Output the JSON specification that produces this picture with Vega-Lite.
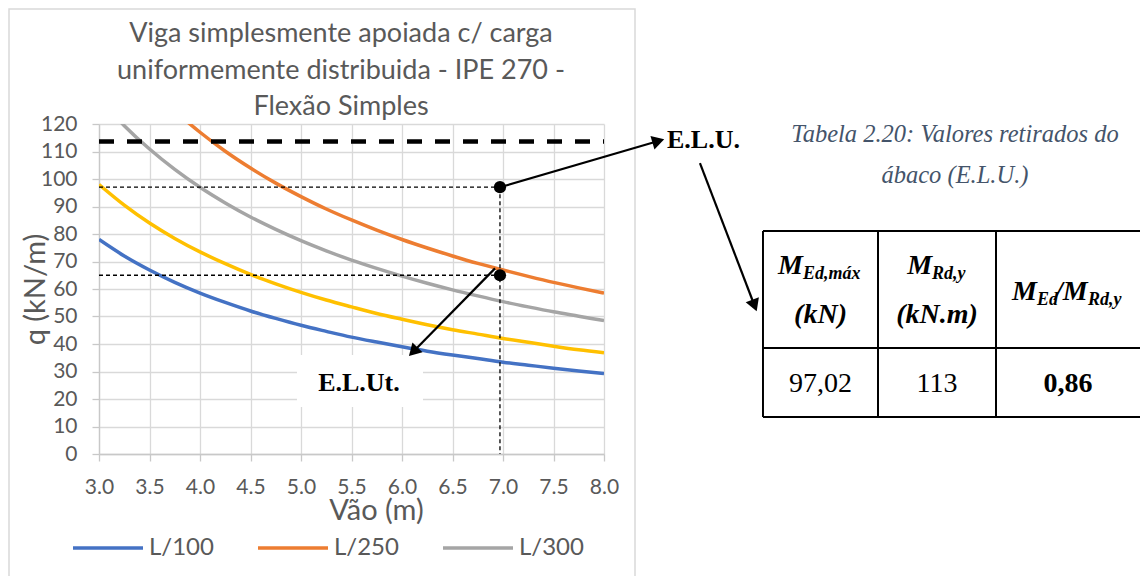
{
  "$schema": "https://vega.github.io/schema/vega-lite/v6.json",
  "width": 505,
  "height": 330,
  "autosize": {"type": "none"},
  "padding": {"left": 99, "top": 124, "right": 536, "bottom": 122},
  "background": "white",
  "config": {"view": {"stroke": null}, "font": "Lato"},
  "datasets": {
    "curves": [
      {"x":3.0,"y":78.0,"s":"L/100"},{"x":3.25,"y":72.0,"s":"L/100"},{"x":3.5,"y":66.9,"s":"L/100"},{"x":3.75,"y":62.4,"s":"L/100"},{"x":4.0,"y":58.5,"s":"L/100"},{"x":4.25,"y":55.1,"s":"L/100"},{"x":4.5,"y":52.0,"s":"L/100"},{"x":4.75,"y":49.3,"s":"L/100"},{"x":5.0,"y":46.8,"s":"L/100"},{"x":5.25,"y":44.6,"s":"L/100"},{"x":5.5,"y":42.5,"s":"L/100"},{"x":5.75,"y":40.7,"s":"L/100"},{"x":6.0,"y":39.0,"s":"L/100"},{"x":6.25,"y":37.4,"s":"L/100"},{"x":6.5,"y":36.0,"s":"L/100"},{"x":6.75,"y":34.7,"s":"L/100"},{"x":7.0,"y":33.4,"s":"L/100"},{"x":7.25,"y":32.3,"s":"L/100"},{"x":7.5,"y":31.2,"s":"L/100"},{"x":7.75,"y":30.2,"s":"L/100"},{"x":8.0,"y":29.3,"s":"L/100"},
      {"x":3.0,"y":156.0,"s":"L/250"},{"x":3.25,"y":144.0,"s":"L/250"},{"x":3.5,"y":133.7,"s":"L/250"},{"x":3.75,"y":124.8,"s":"L/250"},{"x":4.0,"y":117.0,"s":"L/250"},{"x":4.25,"y":110.1,"s":"L/250"},{"x":4.5,"y":104.0,"s":"L/250"},{"x":4.75,"y":98.5,"s":"L/250"},{"x":5.0,"y":93.6,"s":"L/250"},{"x":5.25,"y":89.1,"s":"L/250"},{"x":5.5,"y":85.1,"s":"L/250"},{"x":5.75,"y":81.4,"s":"L/250"},{"x":6.0,"y":78.0,"s":"L/250"},{"x":6.25,"y":74.9,"s":"L/250"},{"x":6.5,"y":72.0,"s":"L/250"},{"x":6.75,"y":69.3,"s":"L/250"},{"x":7.0,"y":66.9,"s":"L/250"},{"x":7.25,"y":64.6,"s":"L/250"},{"x":7.5,"y":62.4,"s":"L/250"},{"x":7.75,"y":60.4,"s":"L/250"},{"x":8.0,"y":58.5,"s":"L/250"},
      {"x":3.0,"y":129.3,"s":"L/300"},{"x":3.25,"y":119.4,"s":"L/300"},{"x":3.5,"y":110.9,"s":"L/300"},{"x":3.75,"y":103.5,"s":"L/300"},{"x":4.0,"y":97.0,"s":"L/300"},{"x":4.25,"y":91.3,"s":"L/300"},{"x":4.5,"y":86.2,"s":"L/300"},{"x":4.75,"y":81.7,"s":"L/300"},{"x":5.0,"y":77.6,"s":"L/300"},{"x":5.25,"y":73.9,"s":"L/300"},{"x":5.5,"y":70.5,"s":"L/300"},{"x":5.75,"y":67.5,"s":"L/300"},{"x":6.0,"y":64.7,"s":"L/300"},{"x":6.25,"y":62.1,"s":"L/300"},{"x":6.5,"y":59.7,"s":"L/300"},{"x":6.75,"y":57.5,"s":"L/300"},{"x":7.0,"y":55.4,"s":"L/300"},{"x":7.25,"y":53.5,"s":"L/300"},{"x":7.5,"y":51.7,"s":"L/300"},{"x":7.75,"y":50.1,"s":"L/300"},{"x":8.0,"y":48.5,"s":"L/300"},
      {"x":3.0,"y":98.0,"s":"L/200"},{"x":3.25,"y":90.5,"s":"L/200"},{"x":3.5,"y":84.0,"s":"L/200"},{"x":3.75,"y":78.4,"s":"L/200"},{"x":4.0,"y":73.5,"s":"L/200"},{"x":4.25,"y":69.2,"s":"L/200"},{"x":4.5,"y":65.3,"s":"L/200"},{"x":4.75,"y":61.9,"s":"L/200"},{"x":5.0,"y":58.8,"s":"L/200"},{"x":5.25,"y":56.0,"s":"L/200"},{"x":5.5,"y":53.5,"s":"L/200"},{"x":5.75,"y":51.1,"s":"L/200"},{"x":6.0,"y":49.0,"s":"L/200"},{"x":6.25,"y":47.0,"s":"L/200"},{"x":6.5,"y":45.2,"s":"L/200"},{"x":6.75,"y":43.6,"s":"L/200"},{"x":7.0,"y":42.0,"s":"L/200"},{"x":7.25,"y":40.6,"s":"L/200"},{"x":7.5,"y":39.2,"s":"L/200"},{"x":7.75,"y":37.9,"s":"L/200"},{"x":8.0,"y":36.8,"s":"L/200"}
    ],
    "frame": [{"x": 2.109, "x2": 8.307, "y": 161.8, "y2": -46}],
    "title": [
      {"x": 5.396, "y": 149.8, "text": "Viga simplesmente apoiada c/ carga"},
      {"x": 5.396, "y": 136.5, "text": "uniformemente distribuida - IPE 270 -"},
      {"x": 5.396, "y": 123.3, "text": "Flexão Simples"}
    ],
    "mrd": [{"x": 3, "x2": 8, "y": 113.6}],
    "guides": [
      {"x": 3, "x2": 6.97, "y": 97.02, "y2": 97.02},
      {"x": 3, "x2": 6.97, "y": 65, "y2": 65},
      {"x": 6.97, "x2": 6.97, "y": 97.02, "y2": 0}
    ],
    "dots": [{"x": 6.97, "y": 97.02}, {"x": 6.97, "y": 65}],
    "box": [{"x": 4.96, "x2": 6.208, "y": 36.0, "y2": 17.1}],
    "arrows": [
      {"x": 6.97, "y": 97.02, "x2": 8.538, "y2": 113.8},
      {"x": 8.95, "y": 105.8, "x2": 9.49, "y2": 54.0},
      {"x": 6.921, "y": 67.5, "x2": 6.111, "y2": 37.2}
    ],
    "head1": [{"x": 8.538, "y": 113.8}],
    "head2": [{"x": 9.49, "y": 54.0}],
    "head3": [{"x": 6.111, "y": 37.2}],
    "labels": [
      {"x": 8.985, "y": 111.4, "text": "E.L.U."},
      {"x": 5.574, "y": 23.0, "text": "E.L.Ut."}
    ],
    "caption": [
      {"x": 11.475, "y": 113.45, "text": "Tabela 2.20: Valores retirados do"},
      {"x": 11.475, "y": 98.55, "text": "ábaco (E.L.U.)"}
    ],
    "tlines": [
      {"x": 9.574, "x2": 13.4, "y": 81.09, "y2": 81.09},
      {"x": 9.574, "x2": 13.4, "y": 38.55, "y2": 38.55},
      {"x": 9.574, "x2": 13.4, "y": 13.45, "y2": 13.45},
      {"x": 9.574, "x2": 9.574, "y": 81.09, "y2": 13.45},
      {"x": 10.713, "x2": 10.713, "y": 81.09, "y2": 13.45},
      {"x": 11.881, "x2": 11.881, "y": 81.09, "y2": 13.45}
    ],
    "ttext": [
      {"x": 9.970, "y": 65.45, "text": "M", "part": "Mr"},
      {"x": 9.970, "y": 63.64, "text": "Ed,máx", "part": "sub"},
      {"x": 10.144, "y": 47.64, "text": "(kN)", "part": "unit"},
      {"x": 11.248, "y": 65.45, "text": "M", "part": "Mr"},
      {"x": 11.248, "y": 63.64, "text": "Rd,y", "part": "sub"},
      {"x": 11.297, "y": 47.64, "text": "(kN.m)", "part": "unit"},
      {"x": 12.287, "y": 56.0, "text": "M", "part": "Mr"},
      {"x": 12.287, "y": 54.18, "text": "Ed", "part": "sub"},
      {"x": 12.465, "y": 56.0, "text": "/M", "part": "Ml"},
      {"x": 12.792, "y": 54.18, "text": "Rd,y", "part": "sub"},
      {"x": 10.144, "y": 22.55, "text": "97,02", "part": "val"},
      {"x": 11.297, "y": 22.55, "text": "113", "part": "val"},
      {"x": 12.594, "y": 22.55, "text": "0,86", "part": "valb"}
    ]
  },
  "encoding": {
    "x": {
      "field": "x", "type": "quantitative",
      "scale": {"domain": [3, 8], "nice": false, "zero": false},
      "axis": {
        "title": "Vão (m)", "values": [3, 3.5, 4, 4.5, 5, 5.5, 6, 6.5, 7, 7.5, 8], "format": ".1f",
        "grid": true, "gridColor": "#d9d9d9", "gridWidth": 1.3,
        "domainColor": "#c8c8c8", "domainWidth": 1.3,
        "tickColor": "#c8c8c8", "tickSize": 7, "tickWidth": 1.3,
        "labelFont": "Lato", "labelFontSize": 21, "labelColor": "#595959", "labelPadding": 15, "labelFlush": false,
        "titleFont": "Lato", "titleFontSize": 29, "titleFontWeight": "normal", "titleColor": "#595959",
        "titleX": 277, "titleY": 56, "titleBaseline": "middle", "titleAlign": "center"
      }
    },
    "y": {
      "field": "y", "type": "quantitative",
      "scale": {"domain": [0, 120], "nice": false, "zero": false},
      "axis": {
        "title": "q (kN/m)", "values": [0, 10, 20, 30, 40, 50, 60, 70, 80, 90, 100, 110, 120],
        "grid": true, "gridColor": "#d9d9d9", "gridWidth": 1.3,
        "domainColor": "#c8c8c8", "domainWidth": 1.3,
        "tickColor": "#c8c8c8", "tickSize": 7, "tickWidth": 1.3,
        "labelFont": "Lato", "labelFontSize": 21, "labelColor": "#595959", "labelPadding": 15, "labelFlush": false,
        "titleFont": "Lato", "titleFontSize": 29, "titleFontWeight": "normal", "titleColor": "#595959",
        "titleX": -64, "titleY": 165, "titleAngle": 270, "titleBaseline": "middle", "titleAlign": "center"
      }
    }
  },
  "layer": [
    {
      "data": {"name": "frame"},
      "mark": {"type": "rect", "fill": null, "stroke": "#d9d9d9", "strokeWidth": 1.5},
      "encoding": {"x2": {"field": "x2"}, "y2": {"field": "y2"}}
    },
    {
      "data": {"name": "title"},
      "mark": {"type": "text", "font": "Lato", "fontSize": 27, "align": "center", "baseline": "alphabetic", "color": "#595959"},
      "encoding": {"text": {"field": "text"}}
    },
    {
      "data": {"name": "curves"},
      "mark": {"type": "line", "strokeWidth": 3.5, "interpolate": "monotone", "clip": true},
      "encoding": {
        "color": {
          "field": "s", "type": "nominal",
          "scale": {"domain": ["L/100", "L/250", "L/300", "L/200"], "range": ["#4472C4", "#ED7D31", "#A5A5A5", "#FFC000"]},
          "legend": {
            "values": ["L/100", "L/250", "L/300"], "title": null, "orient": "none", "direction": "horizontal",
            "legendX": -28, "legendY": 387, "symbolType": "stroke", "symbolSize": 4900, "symbolStrokeWidth": 3.5,
            "labelFont": "Lato", "labelFontSize": 24, "labelColor": "#595959", "labelOffset": 4, "columnPadding": 37
          }
        }
      }
    },
    {
      "data": {"name": "mrd"},
      "mark": {"type": "rule", "color": "black", "strokeWidth": 4.5, "strokeDash": [15, 13]},
      "encoding": {"x2": {"field": "x2"}}
    },
    {
      "data": {"name": "guides"},
      "mark": {"type": "rule", "color": "black", "strokeWidth": 1.3, "strokeDash": [4, 3]},
      "encoding": {"x2": {"field": "x2"}, "y2": {"field": "y2"}}
    },
    {
      "data": {"name": "dots"},
      "mark": {"type": "point", "shape": "circle", "filled": true, "color": "black", "opacity": 1, "size": 150}
    },
    {
      "data": {"name": "box"},
      "mark": {"type": "rect", "fill": "white", "stroke": null},
      "encoding": {"x2": {"field": "x2"}, "y2": {"field": "y2"}}
    },
    {
      "data": {"name": "arrows"},
      "mark": {"type": "rule", "color": "black", "strokeWidth": 2.2},
      "encoding": {"x2": {"field": "x2"}, "y2": {"field": "y2"}}
    },
    {
      "data": {"name": "head1"},
      "mark": {"type": "point", "shape": "triangle-right", "filled": true, "color": "black", "opacity": 1, "size": 200, "angle": 343.6}
    },
    {
      "data": {"name": "head2"},
      "mark": {"type": "point", "shape": "triangle-right", "filled": true, "color": "black", "opacity": 1, "size": 200, "angle": 69}
    },
    {
      "data": {"name": "head3"},
      "mark": {"type": "point", "shape": "triangle-right", "filled": true, "color": "black", "opacity": 1, "size": 200, "angle": 134.4}
    },
    {
      "data": {"name": "labels"},
      "mark": {"type": "text", "font": "Liberation Serif", "fontWeight": "bold", "fontSize": 26, "align": "center", "baseline": "alphabetic", "color": "black"},
      "encoding": {"text": {"field": "text"}}
    },
    {
      "data": {"name": "caption"},
      "mark": {"type": "text", "font": "Liberation Serif", "fontStyle": "italic", "fontSize": 24.5, "align": "center", "baseline": "alphabetic", "color": "#44546A"},
      "encoding": {"text": {"field": "text"}}
    },
    {
      "data": {"name": "tlines"},
      "mark": {"type": "rule", "color": "black", "strokeWidth": 2},
      "encoding": {"x2": {"field": "x2"}, "y2": {"field": "y2"}}
    },
    {
      "data": {"name": "ttext"},
      "transform": [{"filter": "datum.part === 'Mr'"}],
      "mark": {"type": "text", "font": "Liberation Serif", "fontWeight": "bold", "fontStyle": "italic", "fontSize": 28, "align": "right", "baseline": "alphabetic", "color": "black"},
      "encoding": {"text": {"field": "text"}}
    },
    {
      "data": {"name": "ttext"},
      "transform": [{"filter": "datum.part === 'Ml'"}],
      "mark": {"type": "text", "font": "Liberation Serif", "fontWeight": "bold", "fontStyle": "italic", "fontSize": 28, "align": "left", "baseline": "alphabetic", "color": "black"},
      "encoding": {"text": {"field": "text"}}
    },
    {
      "data": {"name": "ttext"},
      "transform": [{"filter": "datum.part === 'unit'"}],
      "mark": {"type": "text", "font": "Liberation Serif", "fontWeight": "bold", "fontStyle": "italic", "fontSize": 28, "align": "center", "baseline": "alphabetic", "color": "black"},
      "encoding": {"text": {"field": "text"}}
    },
    {
      "data": {"name": "ttext"},
      "transform": [{"filter": "datum.part === 'sub'"}],
      "mark": {"type": "text", "font": "Liberation Serif", "fontWeight": "bold", "fontStyle": "italic", "fontSize": 18, "align": "left", "baseline": "alphabetic", "color": "black"},
      "encoding": {"text": {"field": "text"}}
    },
    {
      "data": {"name": "ttext"},
      "transform": [{"filter": "datum.part === 'val'"}],
      "mark": {"type": "text", "font": "Liberation Serif", "fontSize": 28, "align": "center", "baseline": "alphabetic", "color": "black"},
      "encoding": {"text": {"field": "text"}}
    },
    {
      "data": {"name": "ttext"},
      "transform": [{"filter": "datum.part === 'valb'"}],
      "mark": {"type": "text", "font": "Liberation Serif", "fontWeight": "bold", "fontSize": 28, "align": "center", "baseline": "alphabetic", "color": "black"},
      "encoding": {"text": {"field": "text"}}
    }
  ]
}
